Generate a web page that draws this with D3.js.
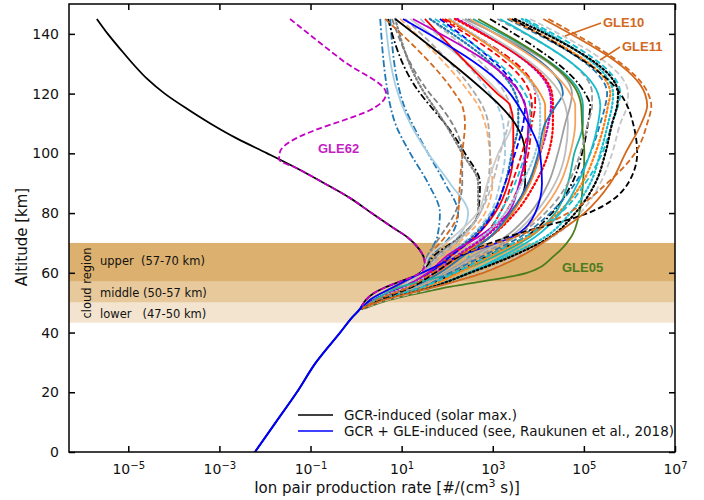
<!DOCTYPE html>
<html>
<head>
<meta charset="utf-8">
<script src="https://cdn.jsdelivr.net/npm/d3@7"></script>
<style>
  body { margin: 0; background: #fff; }
  svg { font-family: "DejaVu Sans", sans-serif; }
  .pre { white-space: pre; }
</style>
</head>
<body>
<svg id="chart" width="704" height="500"></svg>
<script>
// ---- Data -------------------------------------------------------------
// Background GCR ion pair production (solar maximum), log10 of rate [#/(cm^3 s)]
const gcrAltKm = [145,140,135,130,125,120,115,110,105,100,95,90,85,80,75,72,68,65,63,61,59,57,55,53,51,49,48,45,40,30,20,10,0];
const gcrLog10 = [-5.69,-5.45,-5.18,-4.90,-4.59,-4.20,-3.72,-3.20,-2.62,-1.95,-1.30,-0.70,-0.13,0.34,0.82,1.12,1.38,1.49,1.51,1.47,1.30,0.95,0.62,0.37,0.22,0.13,0.09,-0.09,-0.35,-0.88,-1.30,-1.76,-2.22];

// GLE62 departs from the GCR profile above ~98 km
const gle62AltKm = [145,131,120,114.5,111,108,104.5,100.5,98];
const gle62Log10 = [-1.45,-0.29,0.66,0.31,-0.29,-0.86,-1.38,-1.67,-1.69];

// GCR + GLE profiles above 48 km (below that all follow the GCR profile)
const gleAltKm = [145, 120, 116, 110, 100, 90, 80, 72, 66, 60, 55, 51, 48];
const gleProfiles = [
  [2.94,5.03,5.14,5.09,4.96,4.74,4.30,3.71,2.94,2.17,1.41,0.53,0.13],
  [0.75,0.97,1.05,1.23,1.58,1.95,2.24,2.06,1.67,1.43,0.92,0.35,0.13],
  [0.53,0.70,0.75,0.86,1.19,1.58,1.84,1.78,1.58,1.43,0.92,0.35,0.13],
  [0.64,0.92,1.01,1.19,1.58,2.06,2.46,2.24,1.80,1.45,0.92,0.35,0.13],
  [0.70,1.41,1.62,1.95,2.39,2.72,2.68,2.28,1.73,1.43,0.92,0.35,0.13],
  [0.86,1.51,1.69,1.95,2.33,2.68,2.68,2.28,1.80,1.45,0.92,0.35,0.13],
  [0.79,1.62,1.84,2.11,2.33,2.33,2.17,1.84,1.58,1.43,0.86,0.31,0.13],
  [0.64,2.17,2.33,2.39,2.33,2.28,2.24,1.95,1.62,1.43,0.86,0.31,0.13],
  [0.97,2.50,2.68,2.83,2.94,2.99,2.83,2.39,1.95,1.51,0.97,0.37,0.13],
  [1.08,2.61,2.77,2.90,2.94,2.90,2.72,2.33,1.89,1.45,0.92,0.35,0.13],
  [1.19,3.16,3.38,3.42,3.12,2.88,2.66,2.13,1.62,1.43,0.92,0.35,0.13],
  [1.41,2.94,3.10,3.23,3.27,3.16,2.94,2.50,2.02,1.58,1.01,0.40,0.13],
  [1.62,3.27,3.38,3.34,3.16,2.99,2.72,2.33,1.84,1.47,0.97,0.37,0.13],
  [1.62,3.49,3.56,3.56,3.42,3.27,2.99,2.55,2.06,1.62,1.01,0.40,0.13],
  [1.51,3.10,3.38,3.45,3.45,3.34,3.05,2.61,2.11,1.62,1.01,0.42,0.13],
  [0.86,2.88,3.16,3.49,3.71,3.71,3.42,2.94,2.33,1.80,1.14,0.46,0.13],
  [1.84,3.60,3.71,3.67,3.49,3.27,3.01,2.61,2.11,1.62,1.01,0.40,0.13],
  [1.89,3.82,3.86,3.82,3.64,3.42,3.16,2.77,2.24,1.69,1.08,0.42,0.13],
  [1.95,3.93,3.93,3.86,3.78,3.60,3.27,2.83,2.28,1.73,1.08,0.44,0.13],
  [1.73,3.71,3.82,3.82,3.71,3.49,3.16,2.83,2.50,2.17,1.41,0.48,0.13],
  [1.25,3.60,3.71,3.78,3.73,3.58,3.34,2.68,2.02,1.58,1.03,0.42,0.13],
  [2.06,3.97,4.04,4.04,3.93,3.64,3.27,2.77,2.22,1.69,1.08,0.44,0.13],
  [2.22,4.26,4.28,4.22,4.04,3.78,3.38,2.83,2.24,1.73,1.14,0.46,0.13],
  [2.17,4.30,4.32,4.32,4.22,3.93,3.49,2.94,2.33,1.80,1.19,0.48,0.13],
  [2.02,4.04,4.15,4.15,4.04,3.82,3.42,2.94,2.33,1.80,1.14,0.46,0.13],
  [2.46,4.54,4.39,4.15,4.00,3.78,3.38,2.94,2.39,1.84,1.23,0.48,0.13],
  [2.33,4.48,4.59,4.65,4.59,4.37,3.93,3.38,2.68,1.95,1.30,0.53,0.13],
  [2.39,4.74,4.70,4.59,4.43,4.22,3.82,3.27,2.61,1.95,1.30,0.53,0.13],
  [2.50,4.70,4.81,4.81,4.70,4.48,4.04,3.49,2.77,2.06,1.36,0.53,0.13],
  [1.03,3.38,3.56,3.78,4.04,4.08,3.93,3.42,2.33,1.45,0.79,0.31,0.13],
  [2.57,4.92,4.98,4.98,4.79,4.65,4.37,3.82,3.10,2.17,0.92,0.42,0.13],
  [2.68,4.87,4.94,4.96,5.01,4.98,4.90,4.72,4.37,3.75,1.95,0.75,0.18],
  [3.10,5.18,5.18,5.09,4.92,4.65,4.15,3.49,2.72,2.06,1.41,0.53,0.13],
  [3.32,5.51,5.47,5.36,5.14,4.81,4.26,3.60,2.83,2.06,1.41,0.57,0.13],
  [3.38,5.58,5.53,5.45,5.25,4.96,4.43,3.78,2.99,2.24,1.51,0.57,0.13],
  [3.16,5.31,5.36,5.31,5.14,4.87,4.48,3.93,3.27,2.46,1.62,0.64,0.13],
  [3.64,5.64,5.62,5.53,5.36,5.14,4.70,4.15,3.38,2.50,1.62,0.64,0.13],
  [3.71,5.80,5.75,5.62,5.40,5.03,4.48,3.71,2.94,2.17,1.41,0.53,0.13],
  [3.49,5.75,5.73,5.62,5.47,5.25,4.81,4.26,3.49,2.50,1.62,0.64,0.13],
  [3.82,5.97,5.95,5.80,5.62,5.36,4.92,4.32,3.60,2.72,1.73,0.70,0.13],
  [3.42,5.80,5.95,6.08,6.17,5.97,5.09,3.32,2.33,1.73,1.19,0.53,0.13],
  [4.22,6.41,6.48,6.39,6.12,5.51,4.65,3.49,2.28,1.67,1.14,0.48,0.13],
  [4.11,6.34,6.39,6.26,5.91,5.58,5.01,4.28,3.67,2.79,1.67,0.64,0.13]
];

// Line colour and dash style for each profile (same order as gleProfiles)
const gleColors = [
  "#000000","#1f77b4","#1f77b4","#a6cee3","#000000","#808080","#808080","#d2691e",
  "#fdae6b","#a9a9a9","#cccccc","#9ecae1","#bbbbbb","#1f77b4","#ff0000","#000000",
  "#0000ff","#ff0000","#ff0000","#17becf","#bf00bf","#9ecae1","#bf00bf","#ff0000",
  "#f28e2b","#1f77b4","#bdbdbd","#a0a0a0","#f4a460","#0000ff","#1fb0a5","#4b7d1e",
  "#999999","#1f77b4","#ff7f0e","#17becf","#17becf","#17becf","#000000","#c7c7c7",
  "#000000","#d2691e","#d2691e"
];
const gleStyles = [
  "dashdot","dashdot","dashdot","solid","dashdot","dotted","dashed","dashed",
  "dashed","dashed","solid","dashed","dashed","dotted","solid","solid",
  "dashed","dashed","dashdot","dashed","solid","dotted","dotted","dotted",
  "solid","solid","solid","solid","solid","solid","solid","solid",
  "dashed","dashed","dotted","solid","dotted","dashed","dotted","dashed",
  "dashed","dashed","solid"
];

const xTickValues = [1e-5, 1e-3, 1e-1, 1e1, 1e3, 1e5, 1e7];
const yTickValues = [0, 20, 40, 60, 80, 100, 120, 140];

// Venus cloud layers
const bandLabels = ["upper  (57-70 km)", "middle (50-57 km)", "lower   (47-50 km)"];
const bandTopKm = [70, 57, 50];
const bandBottomKm = [57, 50, 43.3];
const bandColors = ["#dcb06e", "#e8c99b", "#f3e4cf"];

const legendLabels = ["GCR-induced (solar max.)", "GCR + GLE-induced (see, Raukunen et al., 2018)"];

// ---- Layout -----------------------------------------------------------
const X0 = 69, X1 = 675, Y0 = 452, Y1 = 4;
const svg = d3.select("#chart");
const x = d3.scaleLog().domain([5e-7, 1e7]).range([X0, X1]);
const y = d3.scaleLinear().domain([0, 150]).range([Y0, Y1]);

svg.append("defs").append("clipPath").attr("id", "plotclip")
  .append("rect").attr("x", X0).attr("y", Y1).attr("width", X1 - X0).attr("height", Y0 - Y1);

// cloud bands
const bands = svg.append("g");
bandTopKm.forEach((top, i) => {
  bands.append("rect")
    .attr("x", X0).attr("width", X1 - X0)
    .attr("y", y(top)).attr("height", y(bandBottomKm[i]) - y(top))
    .attr("fill", bandColors[i]);
});
const bandTextY = [265, 297, 317.5];
bandLabels.forEach((t, i) => {
  bands.append("text").attr("class", "pre")
    .attr("x", 100).attr("y", bandTextY[i])
    .attr("font-size", 11.5).attr("fill", "#111")
    .text(t);
});
bands.append("text")
  .attr("transform", "translate(91,283) rotate(-90)")
  .attr("text-anchor", "middle").attr("font-size", 11.5).attr("fill", "#111")
  .text("cloud region");

// ---- Profiles -------------------------------------------------------------
const line = d3.line()
  .x(d => x(Math.pow(10, d[1])))
  .y(d => y(d[0]))
  .curve(d3.curveMonotoneY);

const dashOf = {
  solid: null,
  dashed: "6,3",
  dotted: "1.6,2.6",
  dashdot: "7,2.5,1.8,2.5"
};

const plot = svg.append("g").attr("clip-path", "url(#plotclip)");

const gcrPts = gcrAltKm.map((a, i) => [a, gcrLog10[i]]);
plot.append("path").attr("d", line(gcrPts))
  .attr("fill", "none").attr("stroke", "#000").attr("stroke-width", 1.8);

gleProfiles.forEach((prof, i) => {
  const pts = gleAltKm.map((a, j) => [a, prof[j]]);
  const st = gleStyles[i];
  plot.append("path").attr("d", line(pts))
    .attr("fill", "none")
    .attr("stroke", gleColors[i])
    .attr("stroke-width", st === "dotted" ? 2.2 : 1.8)
    .attr("stroke-dasharray", dashOf[st])
    .attr("stroke-linecap", st === "dotted" ? "round" : "butt");
});

// GLE62 (on top of the GCR curve it follows below 98 km)
const gle62Pts = gle62AltKm.map((a, i) => [a, gle62Log10[i]])
  .concat(gcrPts.filter(p => p[0] < 98 && p[0] >= 48));
plot.append("path").attr("d", line(gle62Pts))
  .attr("fill", "none").attr("stroke", "#c400c4").attr("stroke-width", 1.8)
  .attr("stroke-dasharray", "6,3");

// common lower part of all GCR + GLE profiles
const lowPts = gcrPts.filter(p => p[0] <= 49);
plot.append("path").attr("d", line(lowPts))
  .attr("fill", "none").attr("stroke", "#0000ff").attr("stroke-width", 2);

// ---- Annotations ------------------------------------------------------
const ann = svg.append("g").attr("font-family", "'Liberation Sans', Arial, sans-serif")
  .attr("font-weight", "bold").attr("font-size", 13);
ann.append("text").attr("x", 603).attr("y", 27).attr("fill", "#d2691e").text("GLE10");
ann.append("text").attr("x", 622).attr("y", 51).attr("fill", "#d2691e").text("GLE11");
ann.append("text").attr("x", 318).attr("y", 153).attr("fill", "#c41fc4").text("GLE62");
ann.append("text").attr("x", 562).attr("y", 272).attr("fill", "#4b7d1e").text("GLE05");
svg.append("line").attr("x1", 601).attr("y1", 23).attr("x2", 565).attr("y2", 36)
  .attr("stroke", "#d2691e").attr("stroke-width", 1.5);
svg.append("line").attr("x1", 620).attr("y1", 47).attr("x2", 600).attr("y2", 60)
  .attr("stroke", "#d2691e").attr("stroke-width", 1.5);

// ---- Axes ---------------------------------------------------------------
const supMinus = e => (e < 0 ? "\u2212" + (-e) : String(e));

const xb = svg.append("g").attr("transform", `translate(0,${Y0})`)
  .call(d3.axisBottom(x).tickValues(xTickValues).tickSizeInner(-6).tickSizeOuter(0).tickPadding(12));
xb.selectAll(".tick text").each(function(d) {
  const e = Math.round(Math.log10(d));
  const t = d3.select(this).text("");
  t.append("tspan").text("10");
  t.append("tspan").attr("dy", "-0.5em").attr("font-size", "0.72em").text(supMinus(e));
});
const xt = svg.append("g").attr("transform", `translate(0,${Y1})`)
  .call(d3.axisTop(x).tickValues(xTickValues).tickSizeInner(-6).tickSizeOuter(0).tickFormat(""));
const yl = svg.append("g").attr("transform", `translate(${X0},0)`)
  .call(d3.axisLeft(y).tickValues(yTickValues).tickSizeInner(-6).tickSizeOuter(0).tickPadding(10));
const yr = svg.append("g").attr("transform", `translate(${X1},0)`)
  .call(d3.axisRight(y).tickValues(yTickValues).tickSizeInner(-6).tickSizeOuter(0).tickFormat(""));

[xb, xt, yl, yr].forEach(g => {
  g.select(".domain").remove();
  g.selectAll(".tick line").attr("stroke", "#000").attr("stroke-width", 1.5);
  g.selectAll(".tick text").attr("font-family", "'DejaVu Sans', sans-serif").attr("font-size", 14).attr("fill", "#111");
});

svg.append("rect").attr("x", X0).attr("y", Y1).attr("width", X1 - X0).attr("height", Y0 - Y1)
  .attr("fill", "none").attr("stroke", "#000").attr("stroke-width", 1.5);

// axis titles
const xTitle = svg.append("text").attr("x", 387).attr("y", 493)
  .attr("text-anchor", "middle").attr("font-size", 15).attr("fill", "#111");
xTitle.append("tspan").text("Ion pair production rate [#/(cm");
xTitle.append("tspan").attr("dy", -6).attr("font-size", 11).text("3");
xTitle.append("tspan").attr("dy", 6).text(" s)]");

svg.append("text").attr("transform", "translate(27,237) rotate(-90)")
  .attr("text-anchor", "middle").attr("font-size", 15).attr("fill", "#111")
  .text("Altitude [km]");

// ---- Legend ---------------------------------------------------------------
const legendColors = ["#000000", "#0000ff"];
const leg = svg.append("g");
legendLabels.forEach((t, i) => {
  const ly = 415 + i * 16;
  leg.append("line").attr("x1", 298).attr("x2", 333).attr("y1", ly).attr("y2", ly)
    .attr("stroke", legendColors[i]).attr("stroke-width", 1.5);
  leg.append("text").attr("x", 344).attr("y", ly + 5)
    .attr("font-size", 13.5).attr("fill", "#111").text(t);
});
</script>
</body>
</html>
